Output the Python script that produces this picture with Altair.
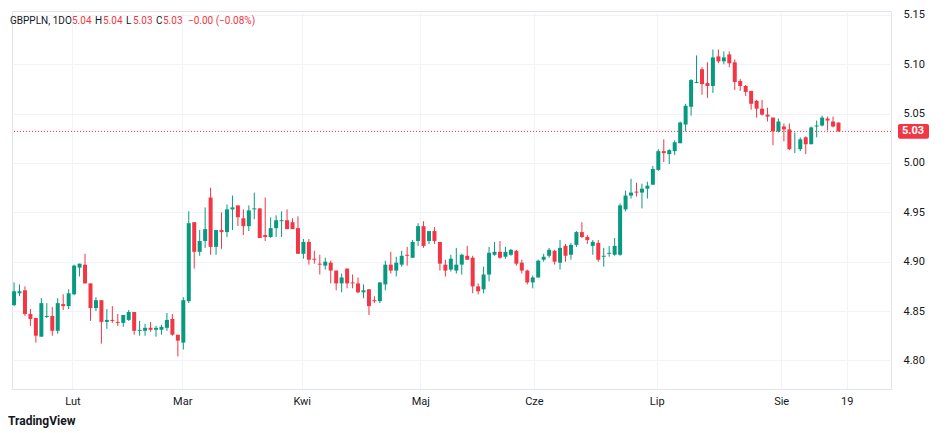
import altair as alt
import pandas as pd

opens = [4.856, 4.868, 4.871, 4.847, 4.843, 4.824, 4.844, 4.845, 4.830, 4.857, 4.855, 4.867, 4.894, 4.897, 4.878, 4.853, 4.861, 4.839, 4.841, 4.839,
         4.838, 4.841, 4.849, 4.830, 4.830, 4.833, 4.831, 4.831, 4.833, 4.842, 4.826, 4.818, 4.860, 4.940, 4.910, 4.921, 4.965, 4.915, 4.932, 4.930,
         4.953, 4.957, 4.944, 4.936, 4.953, 4.954, 4.927, 4.925, 4.934, 4.941, 4.942, 4.940, 4.934, 4.908, 4.920, 4.903, 4.898, 4.896, 4.899, 4.891,
         4.878, 4.893, 4.879, 4.878, 4.869, 4.872, 4.861, 4.860, 4.877, 4.897, 4.891, 4.897, 4.907, 4.904, 4.921, 4.936, 4.921, 4.931, 4.920, 4.897,
         4.892, 4.891, 4.897, 4.906, 4.904, 4.875, 4.872, 4.887, 4.907, 4.910, 4.905, 4.907, 4.911, 4.899, 4.891, 4.879, 4.884, 4.902, 4.906, 4.911,
         4.899, 4.916, 4.907, 4.917, 4.930, 4.925, 4.916, 4.919, 4.905, 4.908, 4.907, 4.907, 4.953, 4.967, 4.971, 4.970, 4.974, 4.978, 4.993, 5.012,
         5.009, 5.012, 5.020, 5.039, 5.057, 5.081, 5.095, 5.081, 5.078, 5.108, 5.103, 5.110, 5.102, 5.083, 5.078, 5.073, 5.063, 5.055, 5.049, 5.046,
         5.032, 5.037, 5.034, 5.015, 5.014, 5.026, 5.019, 5.037, 5.038, 5.045, 5.042, 5.041]
highs = [4.879, 4.877, 4.875, 4.852, 4.843, 4.863, 4.858, 4.854, 4.863, 4.867, 4.872, 4.897, 4.898, 4.908, 4.878, 4.864, 4.861, 4.852, 4.855, 4.847,
         4.846, 4.851, 4.849, 4.840, 4.837, 4.839, 4.835, 4.836, 4.848, 4.847, 4.826, 4.864, 4.951, 4.940, 4.932, 4.955, 4.975, 4.932, 4.950, 4.958,
         4.967, 4.957, 4.953, 4.957, 4.970, 4.954, 4.965, 4.945, 4.947, 4.951, 4.953, 4.944, 4.946, 4.923, 4.923, 4.911, 4.907, 4.904, 4.901, 4.891,
         4.888, 4.893, 4.887, 4.884, 4.877, 4.872, 4.865, 4.879, 4.901, 4.910, 4.905, 4.911, 4.915, 4.922, 4.939, 4.941, 4.931, 4.935, 4.920, 4.902,
         4.907, 4.914, 4.908, 4.916, 4.906, 4.878, 4.895, 4.915, 4.920, 4.921, 4.915, 4.913, 4.912, 4.902, 4.892, 4.886, 4.902, 4.908, 4.914, 4.912,
         4.922, 4.918, 4.919, 4.931, 4.940, 4.927, 4.922, 4.922, 4.914, 4.916, 4.924, 4.959, 4.972, 4.984, 4.980, 4.979, 4.981, 4.997, 5.014, 5.024,
         5.014, 5.023, 5.042, 5.060, 5.085, 5.109, 5.097, 5.102, 5.115, 5.115, 5.113, 5.113, 5.105, 5.085, 5.079, 5.073, 5.064, 5.064, 5.056, 5.046,
         5.045, 5.040, 5.040, 5.031, 5.026, 5.027, 5.037, 5.043, 5.048, 5.047, 5.047, 5.041]
lows = [4.855, 4.865, 4.845, 4.835, 4.818, 4.824, 4.843, 4.825, 4.827, 4.851, 4.852, 4.866, 4.885, 4.878, 4.840, 4.850, 4.817, 4.832, 4.838, 4.835,
        4.834, 4.840, 4.826, 4.825, 4.825, 4.829, 4.824, 4.826, 4.830, 4.825, 4.804, 4.811, 4.858, 4.893, 4.906, 4.914, 4.907, 4.907, 4.913, 4.925,
        4.932, 4.936, 4.927, 4.931, 4.943, 4.924, 4.921, 4.924, 4.925, 4.925, 4.933, 4.933, 4.908, 4.903, 4.897, 4.898, 4.887, 4.892, 4.878, 4.871,
        4.869, 4.873, 4.873, 4.868, 4.863, 4.846, 4.858, 4.858, 4.871, 4.888, 4.885, 4.895, 4.896, 4.904, 4.916, 4.914, 4.918, 4.918, 4.891, 4.885,
        4.890, 4.888, 4.887, 4.902, 4.868, 4.867, 4.868, 4.880, 4.906, 4.903, 4.903, 4.906, 4.896, 4.888, 4.877, 4.873, 4.884, 4.900, 4.904, 4.897,
        4.892, 4.900, 4.902, 4.915, 4.924, 4.918, 4.907, 4.900, 4.895, 4.905, 4.906, 4.906, 4.951, 4.964, 4.966, 4.954, 4.964, 4.978, 4.992, 5.001,
        4.999, 5.008, 5.020, 5.032, 5.048, 5.081, 5.069, 5.066, 5.071, 5.101, 5.100, 5.097, 5.074, 5.073, 5.068, 5.054, 5.046, 5.048, 5.042, 5.018,
        5.031, 5.022, 5.013, 5.010, 5.012, 5.009, 5.019, 5.026, 5.037, 5.033, 5.036, 5.032]
closes = [4.870, 4.870, 4.847, 4.842, 4.825, 4.858, 4.845, 4.830, 4.858, 4.855, 4.868, 4.896, 4.898, 4.878, 4.853, 4.861, 4.839, 4.841, 4.840, 4.838,
          4.846, 4.849, 4.830, 4.831, 4.833, 4.831, 4.833, 4.834, 4.841, 4.826, 4.820, 4.861, 4.939, 4.910, 4.921, 4.933, 4.915, 4.932, 4.930, 4.953,
          4.955, 4.945, 4.936, 4.952, 4.954, 4.924, 4.925, 4.934, 4.942, 4.942, 4.933, 4.933, 4.908, 4.920, 4.902, 4.902, 4.897, 4.900, 4.891, 4.878,
          4.884, 4.878, 4.878, 4.869, 4.871, 4.855, 4.860, 4.879, 4.897, 4.891, 4.899, 4.906, 4.906, 4.920, 4.936, 4.916, 4.931, 4.921, 4.898, 4.891,
          4.903, 4.897, 4.907, 4.902, 4.875, 4.870, 4.887, 4.909, 4.910, 4.904, 4.910, 4.912, 4.898, 4.891, 4.879, 4.884, 4.901, 4.905, 4.912, 4.900,
          4.914, 4.906, 4.917, 4.930, 4.925, 4.922, 4.920, 4.902, 4.906, 4.909, 4.916, 4.957, 4.967, 4.970, 4.970, 4.974, 4.977, 4.994, 5.012, 5.010,
          5.013, 5.021, 5.041, 5.058, 5.084, 5.082, 5.080, 5.078, 5.107, 5.103, 5.107, 5.101, 5.082, 5.078, 5.072, 5.060, 5.055, 5.049, 5.047, 5.032,
          5.042, 5.034, 5.014, 5.015, 5.024, 5.019, 5.036, 5.038, 5.046, 5.043, 5.037, 5.032]

month_labels = ["Lut", "Mar", "Kwi", "Maj", "Cze", "Lip", "Sie", "19"]
month_pos = [10.7, 30.8, 52.7, 74.4, 95.2, 117.7, 140.5, 152.5]
last_price = 5.032

GREEN = "#089981"
RED = "#F23645"

df = pd.DataFrame({"i": range(len(opens)), "open": opens, "high": highs, "low": lows, "close": closes})
df["dir"] = ["up" if c >= o else "down" for o, c in zip(opens, closes)]

label_expr = " : ".join(
    f"datum.value < {p + 0.5} ? '{l}'" for p, l in zip(month_pos, month_labels)
) + " : ''"

x = alt.X(
    "i:Q",
    scale=alt.Scale(domain=[0.54, 159.7], nice=False, zero=False),
    axis=alt.Axis(values=month_pos, labelExpr=label_expr, title=None, grid=True,
                  gridColor="#f0f3fa", ticks=False, domainColor="#e0e3eb",
                  labelColor="#131722", labelFontSize=11, labelPadding=6),
)
y_scale = alt.Scale(domain=[4.771, 5.154], nice=False, zero=False)
color = alt.Color("dir:N", scale=alt.Scale(domain=["up", "down"], range=[GREEN, RED]), legend=None)

base = alt.Chart(df)
wicks = base.mark_rule(strokeWidth=1).encode(
    x=x,
    y=alt.Y("low:Q", scale=y_scale,
            axis=alt.Axis(orient="right", values=[4.80, 4.85, 4.90, 4.95, 5.00, 5.05, 5.10, 5.15],
                          format=".2f", title=None, gridColor="#f0f3fa", ticks=False, domain=False,
                          labelColor="#131722", labelFontSize=11, labelPadding=12)),
    y2="high:Q",
    color=color,
)
bodies = base.mark_bar(size=4).encode(x="i:Q", y="open:Q", y2="close:Q", color=color)

price_line = alt.Chart(pd.DataFrame({"p": [last_price]})).mark_rule(
    color=RED, strokeDash=[1, 2], strokeWidth=1
).encode(y="p:Q")
price_box = alt.Chart(pd.DataFrame({"a": [last_price + 0.0075], "b": [last_price - 0.0075]})).mark_rect(
    color=RED, cornerRadius=2
).encode(x=alt.value(886), x2=alt.value(917), y="a:Q", y2="b:Q")
price_text = alt.Chart(pd.DataFrame({"p": [last_price]})).mark_text(
    color="white", fontSize=11, fontWeight="bold", align="center"
).encode(x=alt.value(901), y="p:Q", text=alt.value("5.03"))

header = pd.DataFrame({
    "t": ["GBPPLN, 1D", "O", "5.04", "H", "5.04", "L", "5.03", "C", "5.03", "−0.00 (−0.08%)"],
    "x": [-2, 53, 60, 83, 91, 114, 121, 144, 151, 176],
    "c": ["#131722", "#131722", RED, "#131722", RED, "#131722", RED, "#131722", RED, RED],
})
header_text = alt.Chart(header).mark_text(align="left", baseline="middle", fontSize=10).encode(
    x=alt.X("x:Q", scale=None), y=alt.value(10), text="t:N", color=alt.Color("c:N", scale=None)
)
logo = alt.Chart(pd.DataFrame({"t": ["TradingView"]})).mark_text(
    align="left", baseline="middle", fontSize=12, fontWeight="bold", color="#131722"
).encode(x=alt.value(-4), y=alt.value(410), text="t:N")

chart = (
    alt.layer(wicks, bodies, price_line, price_box, price_text, header_text, logo)
    .properties(width=879, height=378, padding={"left": 0, "top": 0, "right": 5, "bottom": 5})
    .configure(font="Roboto", background="white")
    .configure_view(stroke="#e0e3eb")
)

chart.save("out.html", embed_options={"renderer": "svg", "actions": False})
